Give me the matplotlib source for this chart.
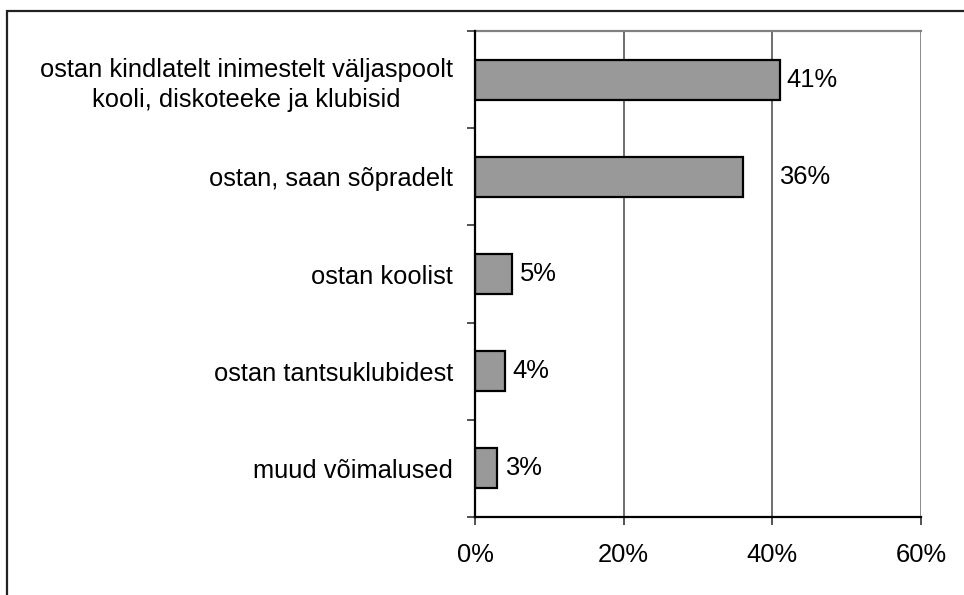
import matplotlib
matplotlib.use('Agg')
import matplotlib.pyplot as plt
from matplotlib.patches import Rectangle
import numpy as np

plt.rcParams['font.family'] = ['Liberation Sans', 'DejaVu Sans']

categories = [
	'ostan kindlatelt inimestelt väljaspoolt\nkooli, diskoteeke ja klubisid',
	'ostan, saan sõpradelt',
	'ostan koolist',
	'ostan tantsuklubidest',
	'muud võimalused',
]
values = [41, 36, 5, 4, 3]
value_labels = ['41%', '36%', '5%', '4%', '3%']
x_ticks = [0, 20, 40, 60]
x_tick_labels = ['0%', '20%', '40%', '60%']

# label offsets in pixels (Excel put the 36% label further out)
label_offsets = [7, 36, 8, 8, 8]

W, H, DPI = 964, 595, 100
FS = 18.4

fig = plt.figure(figsize=(W / DPI, H / DPI), dpi=DPI)
fig.patches.append(Rectangle((7 / W, -0.05), 1.1, 1.05 - 11 / H,
	transform=fig.transFigure, fill=False, edgecolor='#222222', linewidth=1.6))

ax = fig.add_axes([475 / W, 1 - 517 / H, (921 - 475) / W, (517 - 31) / H])

y = np.arange(len(categories))
ax.barh(y, values, height=0.41, color='#999999', edgecolor='black', linewidth=1.6, zorder=3)

ax.set_xlim(0, 60)
ax.set_ylim(len(categories) - 0.5, -0.5)

for xv in x_ticks[1:]:
	ax.axvline(xv, color='#555555' if xv < 60 else '#808080', linewidth=1.2 if xv < 60 else 2, zorder=1)

for i, (v, lab) in enumerate(zip(values, value_labels)):
	ax.annotate(lab, (v, i), xytext=(label_offsets[i] * 72 / DPI, 0), textcoords='offset points',
		ha='left', va='center', fontsize=FS, zorder=4)

ax.set_xticks(x_ticks)
ax.set_xticklabels(x_tick_labels, fontsize=FS)
ax.set_yticks(y)
ax.set_yticklabels(categories, fontsize=FS, linespacing=1.3, multialignment='center')
ax.set_yticks(np.arange(-0.5, len(categories)), minor=True)

tick_len = 8 * 72 / DPI
ax.tick_params(axis='y', which='major', length=0, pad=22 * 72 / DPI)
ax.tick_params(axis='y', which='minor', length=tick_len, width=1.2, color='#333333', direction='out')
ax.tick_params(axis='x', which='major', length=tick_len, width=1.2, color='#333333', direction='out', pad=13)

ax.spines['top'].set_color('#808080')
ax.spines['top'].set_linewidth(1.6)
ax.spines['right'].set_visible(False)
ax.spines['left'].set_color('black')
ax.spines['left'].set_linewidth(1.6)
ax.spines['bottom'].set_color('black')
ax.spines['bottom'].set_linewidth(1.6)
ax.spines['left'].set_zorder(5)

fig.savefig('out.png', dpi=DPI)
